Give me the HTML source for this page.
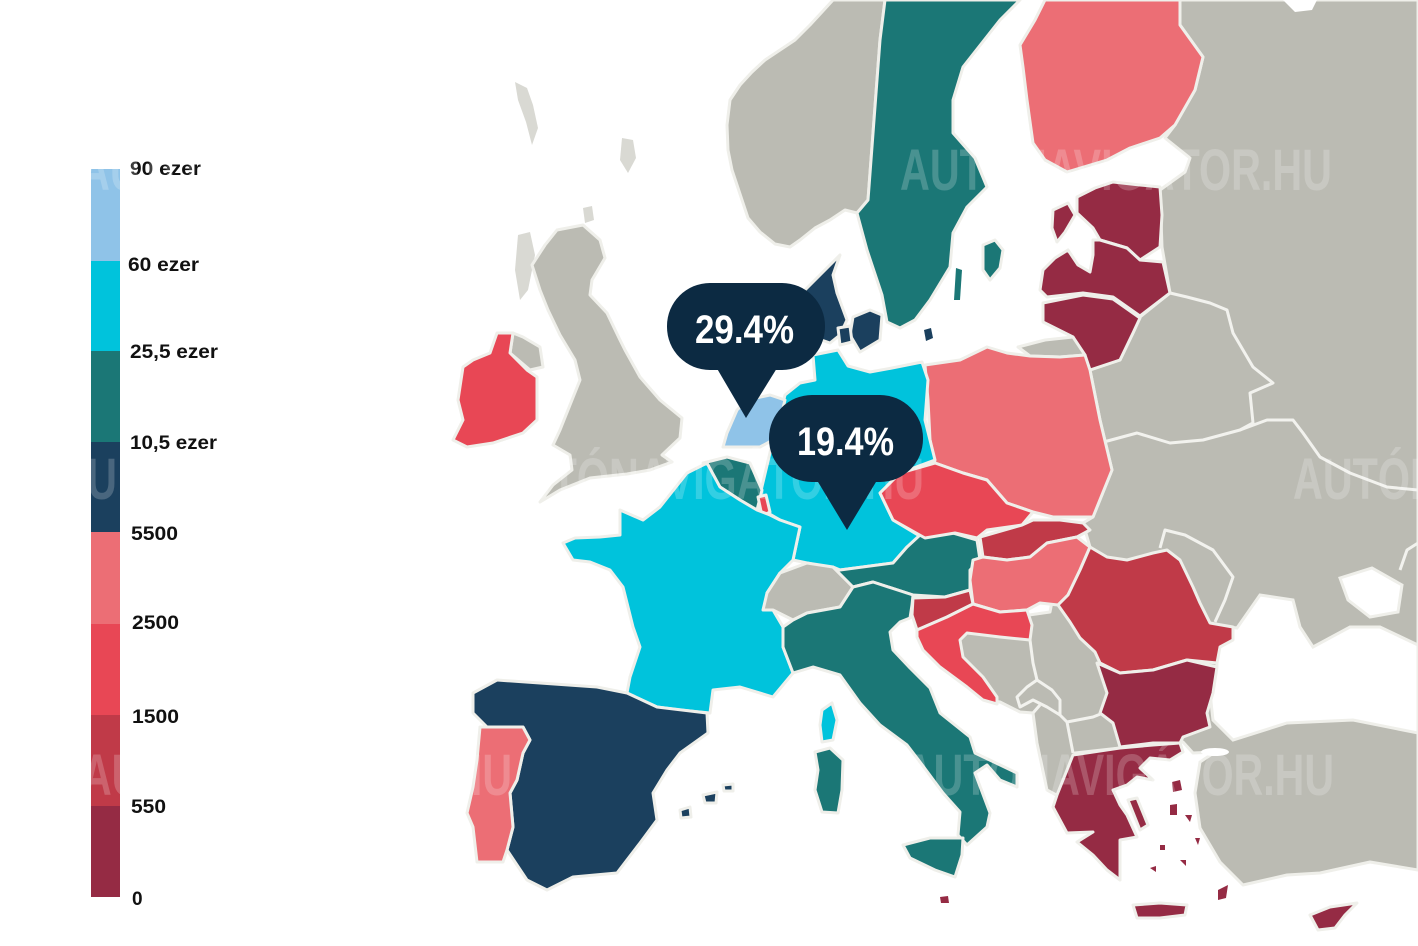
<!DOCTYPE html>
<html><head><meta charset="utf-8"><style>
html,body{margin:0;padding:0;background:#fff;}
svg{display:block;}
.l{stroke:#efefea;stroke-width:3;stroke-linejoin:round;}
.g{fill:#bbbbb3}.pk{fill:#ec6e75}.rd{fill:#e84755}.dr{fill:#c03a48}.mr{fill:#952b44}
.tl{fill:#1b7776}.nv{fill:#1b405e}.cy{fill:#00c3dc}.lb{fill:#8fc3e8}.lg{fill:#d9d9d3}
.b{fill:none;stroke:#f2f2ee;stroke-width:3;stroke-linejoin:round;}
.lab{font-family:"Liberation Sans",sans-serif;font-weight:bold;font-size:19px;fill:#111;}
.wm{font-family:"Liberation Sans Narrow","Liberation Sans",sans-serif;font-weight:bold;font-size:58px;fill:#fff;opacity:0.2;}
.bt{font-family:"Liberation Sans Narrow","Liberation Sans",sans-serif;font-weight:bold;font-size:40px;fill:#fff;}
</style></head><body>
<svg width="1418" height="946" viewBox="0 0 1418 946" xmlns="http://www.w3.org/2000/svg">
<rect width="1418" height="946" fill="#fff"/>

<!-- legend bar -->
<rect x="91" y="169" width="29" height="93" fill="#8fc3e8"/>
<rect x="91" y="261" width="29" height="91" fill="#00c3dc"/>
<rect x="91" y="351" width="29" height="92" fill="#1b7776"/>
<rect x="91" y="442" width="29" height="91" fill="#1b405e"/>
<rect x="91" y="532" width="29" height="93" fill="#ec6e75"/>
<rect x="91" y="624" width="29" height="92" fill="#e84755"/>
<rect x="91" y="715" width="29" height="92" fill="#c03a48"/>
<rect x="91" y="806" width="29" height="91" fill="#952b44"/>
<text class="lab" x="130" y="175" textLength="71" lengthAdjust="spacingAndGlyphs">90 ezer</text>
<text class="lab" x="128" y="271" textLength="71" lengthAdjust="spacingAndGlyphs">60 ezer</text>
<text class="lab" x="130" y="358" textLength="88" lengthAdjust="spacingAndGlyphs">25,5 ezer</text>
<text class="lab" x="130" y="449" textLength="87" lengthAdjust="spacingAndGlyphs">10,5 ezer</text>
<text class="lab" x="131" y="540" textLength="47" lengthAdjust="spacingAndGlyphs">5500</text>
<text class="lab" x="132" y="629" textLength="47" lengthAdjust="spacingAndGlyphs">2500</text>
<text class="lab" x="132" y="723" textLength="47" lengthAdjust="spacingAndGlyphs">1500</text>
<text class="lab" x="131" y="813" textLength="35" lengthAdjust="spacingAndGlyphs">550</text>
<text class="lab" x="132" y="905">0</text>

<!-- small northern islands -->
<path class="lg" d="M515,82 L527,88 L533,105 L538,128 L532,145 L526,122 L518,100 Z"/>
<path class="lg" d="M622,138 L633,140 L636,158 L628,173 L620,160 Z"/>
<path class="lg" d="M583,208 L592,206 L594,220 L585,223 Z"/>
<path class="lg" d="M518,235 L530,232 L535,255 L528,290 L520,300 L515,270 Z"/>

<!-- East gray landmass -->
<path class="g l" d="M1180,0 L1418,0 L1418,870 L1370,862 L1320,873 L1287,875 L1243,885 L1220,862 L1200,828 L1195,793 L1200,762 L1215,752 L1193,753 L1183,742 L1150,746 L1120,748 L1075,753 L1060,797 L1047,790 L1037,743 L1033,713 L1020,712 L1000,702 L985,700 L955,675 L940,650 L925,640 L960,625 L1050,612 L1060,560 L1090,547 L1083,523 L1093,517 L1112,470 L1100,420 L1090,370 L1120,360 L1133,333 L1140,317 L1170,293 L1162,247 L1160,190 L1185,172 L1190,158 L1165,138 L1175,125 L1195,90 L1203,57 L1180,25 Z"/>
<path fill="#fff" d="M1283,0 L1317,0 L1312,10 L1295,12 Z"/>
<!-- internal borders east -->
<polyline class="b" points="1170,293 1187,297 1210,303 1227,310 1233,333 1253,367 1273,383 1250,393 1253,423 1240,430"/>
<polyline class="b" points="1100,443 1137,433 1170,443 1203,440 1240,430 1267,420 1293,420 1303,433 1320,457 1350,473 1387,487 1418,490"/>
<polyline class="b" points="1418,543 1407,550 1400,570"/>
<polyline class="b" points="1160,548 1165,530 1185,535 1213,550 1233,577 1225,600 1215,622"/>
<polyline class="b" points="1030,625 1030,640 1033,663 1037,680 1027,687 1017,697 1020,707 1033,700 1047,707 1060,715 1067,722 1093,717 1103,713"/>
<polyline class="b" points="1067,722 1073,753"/>
<polyline class="b" points="1033,713 1040,705"/>
<polyline class="b" points="1037,680 1052,690 1060,700 1060,715"/>
<!-- Black sea, Azov, Marmara -->
<path fill="#fff" stroke="#efefea" stroke-width="3" d="M1212,625 L1237,628 L1260,595 L1293,600 L1300,627 L1313,647 L1350,627 L1380,627 L1418,645 L1418,733 L1353,720 L1287,723 L1233,740 L1213,720 L1210,693 L1217,665 Z"/>
<path fill="#fff" stroke="#efefea" stroke-width="3" d="M1340,578 L1372,568 L1402,585 L1398,612 L1370,617 L1348,600 Z"/>
<ellipse cx="1215" cy="752" rx="14" ry="4" fill="#fff"/>

<!-- Norway -->
<path class="g l" d="M833,0 L885,0 L880,40 L874,120 L868,200 L857,213 L845,210 L830,220 L815,228 L800,240 L790,247 L775,244 L760,232 L748,218 L742,200 L738,188 L732,170 L728,150 L727,125 L730,100 L740,85 L752,72 L765,60 L780,50 L795,40 L810,25 L822,12 Z"/>
<!-- Sweden -->
<path class="tl l" d="M885,0 L1020,0 L1000,20 L963,67 L953,100 L953,133 L975,158 L987,187 L967,207 L953,233 L950,267 L930,300 L915,320 L900,328 L887,322 L882,295 L867,250 L857,213 L868,200 L874,120 L880,40 Z"/>
<path class="tl l" d="M983,245 L995,240 L1003,250 L1000,268 L990,280 L983,270 Z"/>
<path class="tl" d="M956,268 L962,270 L960,300 L954,300 Z"/>
<!-- Finland -->
<path class="pk l" d="M1045,0 L1180,0 L1180,25 L1203,57 L1195,90 L1175,125 L1160,138 L1130,148 L1107,160 L1067,172 L1045,160 L1033,143 L1027,100 L1023,67 L1020,45 L1035,20 Z"/>
<!-- Baltics -->
<path class="mr l" d="M1077,197 L1095,188 L1113,182 L1140,185 L1160,187 L1162,215 L1160,247 L1140,260 L1127,248 L1100,240 L1093,228 L1077,213 Z"/>
<path class="mr l" d="M1053,210 L1068,203 L1075,215 L1065,232 L1057,242 L1052,228 Z"/>
<path class="mr l" d="M1040,290 L1043,270 L1055,258 L1068,250 L1078,265 L1090,272 L1093,255 L1093,240 L1100,240 L1127,248 L1140,260 L1163,262 L1170,293 L1140,316 L1113,297 L1083,293 L1047,297 Z"/>
<path class="mr l" d="M1043,303 L1083,295 L1113,299 L1140,318 L1133,333 L1120,360 L1090,370 L1073,337 L1043,322 Z"/>
<!-- Kaliningrad -->
<path class="g l" d="M1018,347 L1045,340 L1073,337 L1085,355 L1060,357 L1030,356 Z"/>
<!-- Poland -->
<path class="pk l" d="M925,365 L960,360 L987,347 L1007,353 L1030,356 L1060,357 L1085,355 L1090,370 L1100,420 L1112,470 L1093,517 L1053,517 L1033,512 L1007,503 L987,480 L963,473 L935,463 L930,440 L928,400 Z"/>
<!-- Denmark -->
<path class="nv l" d="M840,255 L833,275 L837,293 L847,320 L840,335 L830,343 L813,337 L807,310 L805,290 L815,280 Z"/>
<path class="nv l" d="M853,317 L870,310 L882,315 L880,340 L860,352 L850,335 Z"/>
<path class="nv l" d="M838,328 L850,326 L852,342 L840,345 Z"/>
<path class="nv" d="M924,330 L931,328 L933,338 L926,341 Z"/>
<!-- Germany -->
<path class="cy l" d="M785,395 L800,383 L815,380 L813,355 L838,350 L848,366 L870,372 L892,368 L922,362 L928,380 L925,420 L935,460 L900,473 L880,493 L893,520 L923,538 L907,547 L893,563 L840,570 L793,560 L800,527 L780,520 L768,513 L760,495 L773,440 L783,403 Z"/>
<!-- Netherlands -->
<path class="lb l" d="M723,447 L727,433 L737,410 L747,400 L770,395 L785,400 L780,420 L773,440 L760,447 Z"/>
<!-- Belgium, Lux -->
<path class="tl l" d="M703,463 L727,457 L750,463 L762,490 L757,510 L740,500 L720,487 L707,477 Z"/>
<path class="rd l" d="M758,497 L766,495 L770,512 L762,516 Z"/>
<!-- France -->
<path class="cy l" d="M707,463 L720,487 L740,500 L757,510 L770,515 L780,520 L800,527 L793,560 L780,573 L767,593 L773,610 L783,627 L783,647 L793,673 L773,697 L740,687 L713,690 L710,713 L680,710 L657,707 L627,693 L630,677 L640,647 L633,627 L623,587 L610,570 L590,562 L573,560 L563,543 L575,538 L600,537 L620,535 L620,510 L643,520 L660,507 L687,473 Z"/>
<!-- Switzerland -->
<path class="g l" d="M767,593 L780,573 L807,563 L833,567 L853,587 L840,607 L807,613 L793,620 L773,610 L763,610 Z"/>
<!-- Austria -->
<path class="tl l" d="M833,567 L840,570 L893,563 L907,547 L920,535 L953,533 L977,540 L980,560 L970,570 L970,590 L945,597 L913,595 L873,582 L853,587 Z"/>
<!-- Czech -->
<path class="rd l" d="M880,493 L900,473 L935,463 L963,473 L987,480 L1007,503 L1033,512 L1022,525 L987,530 L977,538 L955,533 L925,538 L893,520 Z"/>
<!-- Slovakia -->
<path class="dr l" d="M980,537 L1022,525 L1033,520 L1060,520 L1083,523 L1090,530 L1077,537 L1047,543 L1030,557 L1007,560 L983,557 Z"/>
<!-- Hungary -->
<path class="pk l" d="M973,560 L983,557 L1007,560 L1030,557 L1047,543 L1077,537 L1090,547 L1080,570 L1068,595 L1058,605 L1040,603 L1027,610 L1000,612 L973,604 L970,580 Z"/>
<!-- Slovenia -->
<path class="dr l" d="M913,598 L945,597 L970,590 L973,604 L947,617 L917,630 L912,615 Z"/>
<!-- Croatia -->
<path class="rd l" d="M917,630 L947,617 L973,604 L1000,612 L1027,610 L1032,625 L1030,640 L1000,637 L967,633 L960,640 L963,657 L983,677 L997,697 L997,704 L983,700 L967,687 L940,667 L923,650 L917,637 Z"/>
<!-- Italy -->
<path class="tl l" d="M840,607 L853,587 L873,582 L913,595 L912,605 L910,618 L900,622 L890,632 L893,650 L910,668 L930,688 L940,713 L970,737 L975,753 L1017,773 L1017,787 L1000,780 L987,765 L975,773 L990,813 L987,827 L967,845 L958,835 L960,812 L943,793 L920,762 L907,745 L880,725 L860,703 L840,675 L813,667 L793,673 L783,647 L783,627 L793,620 L807,613 Z"/>
<path class="tl l" d="M903,845 L930,838 L963,838 L962,855 L955,877 L935,870 L910,858 Z"/>
<path class="tl l" d="M815,752 L830,748 L843,760 L842,790 L838,813 L822,812 L815,790 L818,770 Z"/>
<path class="cy l" d="M822,710 L832,703 L837,720 L833,740 L822,742 L820,725 Z"/>
<path class="mr" d="M940,897 L948,896 L949,903 L941,903 Z"/>
<!-- Spain & Portugal -->
<path class="nv l" d="M473,693 L497,680 L540,683 L597,687 L627,693 L657,707 L707,713 L708,733 L680,753 L667,770 L653,793 L657,820 L640,843 L617,873 L573,877 L547,890 L527,880 L507,850 L513,827 L510,793 L517,780 L523,753 L530,740 L523,727 L487,727 L473,713 Z"/>
<path class="pk l" d="M480,727 L523,727 L530,740 L523,753 L517,780 L510,793 L513,827 L507,850 L503,862 L477,862 L473,827 L467,813 L473,787 L477,760 Z"/>
<path class="nv l" d="M680,810 L690,807 L691,817 L681,818 Z"/>
<path class="nv l" d="M703,795 L717,792 L716,803 L705,803 Z"/>
<path class="nv l" d="M723,785 L733,784 L733,791 L724,791 Z"/>
<!-- UK & Ireland -->
<path class="g l" d="M557,230 L583,225 L600,240 L605,258 L592,280 L590,295 L607,313 L620,340 L625,350 L640,377 L660,400 L682,418 L680,438 L662,455 L672,462 L650,470 L627,474 L590,478 L560,490 L540,502 L553,485 L572,470 L570,455 L553,445 L560,430 L572,400 L580,380 L575,360 L560,335 L548,310 L540,290 L532,265 L545,245 Z"/>
<path class="g l" d="M513,333 L523,337 L540,347 L543,367 L530,370 L510,353 Z"/>
<path class="rd l" d="M497,333 L513,333 L510,353 L527,370 L537,377 L537,400 L537,420 L523,433 L493,443 L467,447 L453,440 L463,420 L458,400 L463,367 L473,360 L490,353 Z"/>
<!-- Romania, Bulgaria -->
<path class="dr l" d="M1058,605 L1068,595 L1080,570 L1090,547 L1107,557 L1127,560 L1153,553 L1167,550 L1180,560 L1193,587 L1200,603 L1210,623 L1233,627 L1233,640 L1220,647 L1217,663 L1187,660 L1153,670 L1120,673 L1100,663 L1095,652 L1080,638 L1070,622 Z"/>
<path class="mr l" d="M1097,663 L1120,673 L1153,670 L1187,660 L1217,667 L1213,693 L1207,713 L1210,727 L1183,737 L1180,743 L1153,743 L1120,747 L1113,723 L1100,713 L1107,693 Z"/>
<!-- Greece -->
<path class="mr l" d="M1073,755 L1120,748 L1153,745 L1180,743 L1183,752 L1170,760 L1150,758 L1140,768 L1153,780 L1137,777 L1127,785 L1113,790 L1120,805 L1127,815 L1137,837 L1120,840 L1120,860 L1120,880 L1107,870 L1093,855 L1077,842 L1093,832 L1067,833 L1053,807 L1057,795 Z"/>
<path class="mr l" d="M1128,800 L1137,798 L1148,825 L1140,830 Z"/>
<path class="mr l" d="M1133,905 L1160,903 L1187,905 L1185,915 L1160,918 L1137,918 Z"/>
<path class="mr l" d="M1310,915 L1330,907 L1357,903 L1345,915 L1335,928 L1318,930 Z"/>
<path class="mr" d="M1172,782 L1180,780 L1182,790 L1173,792 Z"/>
<path class="mr" d="M1170,805 L1177,804 L1177,815 L1170,815 Z"/>
<path class="mr" d="M1185,815 L1192,815 L1190,822 Z"/>
<path class="mr" d="M1218,890 L1228,885 L1226,898 L1218,900 Z"/>
<path class="mr" d="M1160,845 L1165,845 L1165,850 L1160,850 Z"/>
<path class="mr" d="M1180,860 L1186,860 L1186,866 Z"/>
<path class="mr" d="M1150,868 L1156,866 L1156,872 Z"/>
<path class="mr" d="M1195,838 L1200,838 L1198,845 Z"/>

<!-- watermarks -->
<text class="wm" x="80" y="190" textLength="432" lengthAdjust="spacingAndGlyphs">AUTÓNAVIGÁTOR.HU</text>
<text class="wm" x="900" y="190" textLength="432" lengthAdjust="spacingAndGlyphs">AUTÓNAVIGÁTOR.HU</text>
<text class="wm" x="-315" y="499" textLength="432" lengthAdjust="spacingAndGlyphs">AUTÓNAVIGÁTOR.HU</text>
<text class="wm" x="492" y="499" textLength="432" lengthAdjust="spacingAndGlyphs">AUTÓNAVIGÁTOR.HU</text>
<text class="wm" x="1293" y="499" textLength="432" lengthAdjust="spacingAndGlyphs">AUTÓNAVIGÁTOR.HU</text>
<text class="wm" x="82" y="795" textLength="430" lengthAdjust="spacingAndGlyphs">AUTÓNAVIGÁTOR.HU</text>
<text class="wm" x="904" y="795" textLength="430" lengthAdjust="spacingAndGlyphs">AUTÓNAVIGÁTOR.HU</text>

<!-- callouts -->
<g fill="#0c2a42">
<rect x="667" y="283" width="158" height="87" rx="43" ry="43"/>
<path d="M712,360 L782,360 L746,418 Z"/>
<rect x="769" y="395" width="154" height="87" rx="43" ry="43"/>
<path d="M812,472 L882,472 L847,530 Z"/>
</g>
<text class="bt" x="695" y="343" textLength="99" lengthAdjust="spacingAndGlyphs">29.4%</text>
<text class="bt" x="797" y="455" textLength="97" lengthAdjust="spacingAndGlyphs">19.4%</text>
</svg>
</body></html>
